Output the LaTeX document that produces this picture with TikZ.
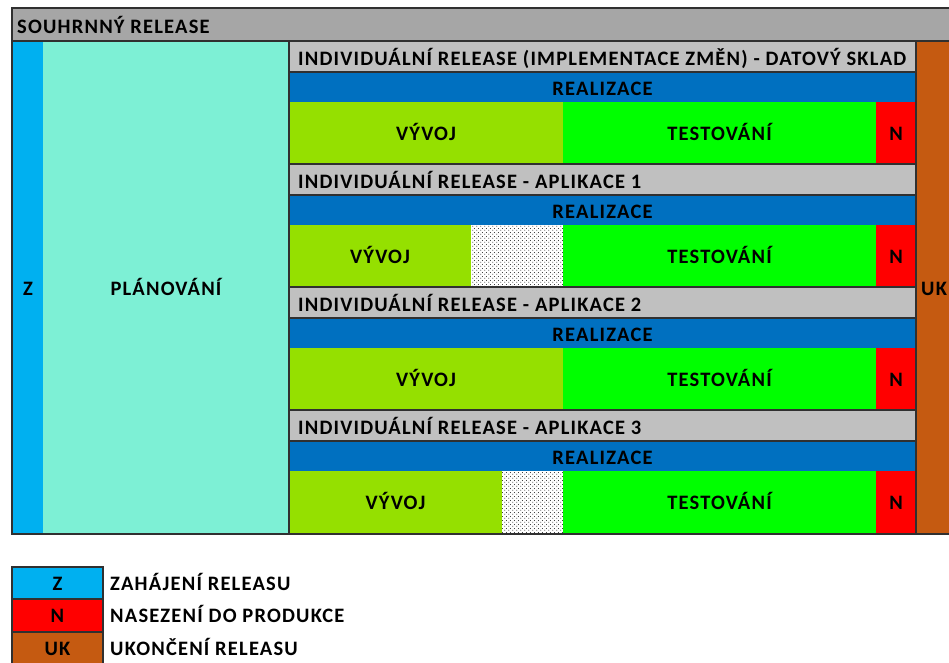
\documentclass[tikz,border=0pt]{standalone}
\usepackage{fontspec}
\setmainfont{Carlito}[LetterSpace=5.8]
\usetikzlibrary{patterns.meta}

\definecolor{bargray}{HTML}{A6A6A6}
\definecolor{headgray}{HTML}{C0C0C0}
\definecolor{zblue}{HTML}{00B0F0}
\definecolor{planaqua}{HTML}{7DF0D5}
\definecolor{realblue}{HTML}{0070C0}
\definecolor{devgreen}{HTML}{95E000}
\definecolor{testgreen}{HTML}{00FF00}
\definecolor{nred}{HTML}{FF0000}
\definecolor{ukbrown}{HTML}{C55A11}
\definecolor{rule}{HTML}{303030}

% sparse staggered dot fill for idle time
\tikzdeclarepattern{
  name=sparse dots,
  type=uncolored,
  bottom left={(0pt,0pt)},
  top right={(4pt,4pt)},
  tile size={(4pt,4pt)},
  code={
    \fill (1pt,1pt) circle (0.6pt);
    \fill (3pt,3pt) circle (0.6pt);
  }
}

\tikzset{
  lbl/.style={font=\bfseries\fontsize{20.5}{20.5}\selectfont, inner sep=0pt, text=black},
  gridline/.style={draw=rule, line width=1.2pt},
  frame/.style={draw=rule, line width=2.4pt},
  dotted cell/.style={fill=white, postaction={pattern=sparse dots, pattern color=black}},
}

\begin{document}
\begin{tikzpicture}[x=1pt, y=-1pt]
  \useasboundingbox (0,0) rectangle (949,662);
  \clip (0,0) rectangle (949,662);
  \fill[white] (0,0) rectangle (949,662);

  % summary release frame
  \fill[bargray] (12,8) rectangle (960,41);
  \fill[zblue] (12,41) rectangle (43,534);
  \fill[planaqua] (43,41) rectangle (289,534);
  \fill[ukbrown] (916,41) rectangle (960,534);

  % one block per individual release: header, realisation bar, phases
  \foreach \t/\dv in {41/563, 164/471, 287/563, 410/502} {
    \fill[headgray] (289,\t) rectangle (916,\t+31);
    \fill[realblue] (289,\t+31) rectangle (916,\t+61);
    \fill[devgreen] (289,\t+61) rectangle (\dv,\t+123);
    \fill[testgreen] (563,\t+61) rectangle (876,\t+123);
    \fill[nred] (876,\t+61) rectangle (916,\t+123);
  }
  \path[dotted cell] (471,225) rectangle (563,287);
  \path[dotted cell] (502,471) rectangle (563,533);

  % cell borders
  \draw[gridline] (12,41) -- (960,41);
  \draw[gridline] (289,41) -- (289,534);
  \draw[gridline] (916,41) -- (916,534);
  \foreach \t in {41, 164, 287, 410} {
    \draw[gridline] (289,\t) -- (916,\t);
    \draw[gridline] (289,\t+31) -- (916,\t+31);
  }
  \draw[frame] (12,8) rectangle (962,534);

  % texts
  \node[lbl, anchor=base west] (sum) at (17,33.5) {SOUHRNNÝ RELEASE};
  \node[lbl, anchor=base] (z) at (28,295) {Z};
  \node[lbl, anchor=base] (plan) at (166,295) {PLÁNOVÁNÍ};
  \node[lbl, anchor=base west] (uk) at (921,295) {UK};

  \node[lbl, anchor=base west] (h1) at (298,65) {INDIVIDUÁLNÍ RELEASE (IMPLEMENTACE ZMĚN) - DATOVÝ SKLAD};
  \node[lbl, anchor=base west] (h2) at (298,188) {INDIVIDUÁLNÍ RELEASE - APLIKACE 1};
  \node[lbl, anchor=base west] (h3) at (298,311) {INDIVIDUÁLNÍ RELEASE - APLIKACE 2};
  \node[lbl, anchor=base west] (h4) at (298,434) {INDIVIDUÁLNÍ RELEASE - APLIKACE 3};

  \foreach \t/\i in {41/1, 164/2, 287/3, 410/4} {
    \node[lbl, anchor=base] (r\i) at (602.5,\t+54) {REALIZACE};
    \node[lbl, anchor=base] (t\i) at (719.5,\t+99) {TESTOVÁNÍ};
    \node[lbl, anchor=base] (n\i) at (896,\t+99) {N};
  }
  \node[lbl, anchor=base] (v1) at (426,140) {VÝVOJ};
  \node[lbl, anchor=base] (v2) at (380,263) {VÝVOJ};
  \node[lbl, anchor=base] (v3) at (426,386) {VÝVOJ};
  \node[lbl, anchor=base] (v4) at (395.5,509) {VÝVOJ};

  % legend
  \fill[zblue] (12,567) rectangle (103,599);
  \fill[nred] (12,599) rectangle (103,632);
  \fill[ukbrown] (12,632) rectangle (103,665);
  \draw[frame] (12,599) -- (103,599) (12,632) -- (103,632);
  \draw[frame] (12,567) rectangle (103,665);
  \node[lbl, anchor=base] (lz) at (57.5,590) {Z};
  \node[lbl, anchor=base] (ln) at (57.5,622.5) {N};
  \node[lbl, anchor=base] (luk) at (57.5,655) {UK};
  \node[lbl, anchor=base west] (tz) at (110,590) {ZAHÁJENÍ RELEASU};
  \node[lbl, anchor=base west] (tn) at (110,622.5) {NASEZENÍ DO PRODUKCE};
  \node[lbl, anchor=base west] (tuk) at (110,655) {UKONČENÍ RELEASU};
\end{tikzpicture}
\end{document}
